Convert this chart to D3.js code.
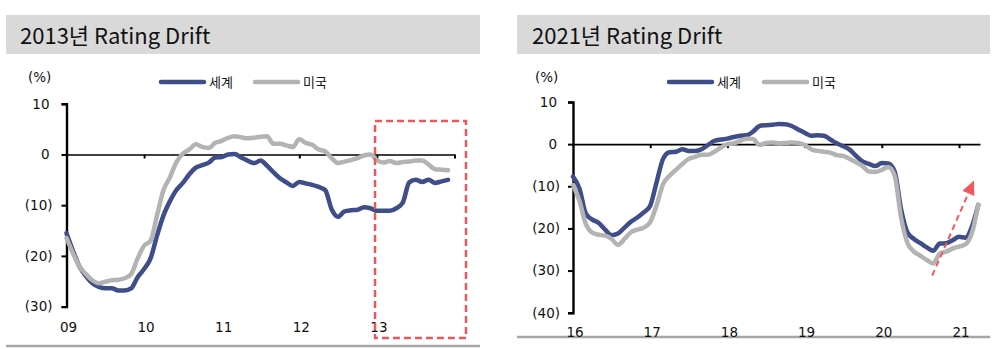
<!DOCTYPE html>
<html>
<head>
<meta charset="utf-8">
<script src="https://cdn.jsdelivr.net/npm/d3@7"></script>
<style>
  html, body { margin: 0; padding: 0; background: #fff; }
  svg { display: block; }
</style>
</head>
<body>
<svg id="chart" width="1000" height="349"></svg>
<script>
// Monthly rating drift (%) — 2009.01 ~ 2013.12
const months2013 = d3.range(60).map(i => 2009 + i / 12);
const world2013 = [
  -15.5, -19.0, -22.1, -24.0, -25.4, -26.1, -26.4, -26.4, -26.8, -26.8, -26.4, -24.2,
  -22.6, -20.5, -16.0, -12.0, -9.2, -7.0, -5.6, -3.9, -2.6, -2.1, -1.6, -0.6,
  -0.5, 0.0, 0.1, -0.6, -1.2, -1.7, -1.2, -2.2, -3.5, -4.7, -5.5, -6.2,
  -5.4, -5.7, -6.0, -6.4, -7.0, -10.8, -12.3, -11.2, -11.0, -10.9, -10.4, -10.6,
  -11.1, -11.1, -11.1, -10.6, -9.5, -5.5, -5.0, -5.4, -5.0, -5.6, -5.3, -5.0
];
const us2013 = [
  -16.5, -19.5, -22.1, -23.6, -24.8, -25.4, -25.1, -24.8, -24.7, -24.4, -23.6, -20.5,
  -18.0, -17.0, -12.0, -7.0, -4.5, -1.5, 0.2, 1.0, 2.0, 1.5, 1.3, 2.3,
  2.7, 3.3, 3.6, 3.4, 3.2, 3.3, 3.5, 3.6, 2.1, 2.1, 1.8, 1.5,
  3.0, 2.3, 1.9, 1.0, 0.6, -0.7, -1.7, -1.4, -1.1, -0.7, -0.2, 0.0,
  -1.1, -1.6, -1.3, -1.7, -1.5, -1.4, -1.2, -1.2, -2.0, -2.9, -3.0, -3.1
];

// Monthly rating drift (%) — 2016.01 ~ 2021.04
const months2021 = d3.range(64).map(i => 2016 + i / 12);
const world2021 = [
  -7.7, -10.5, -16.5, -17.9, -18.7, -20.3, -21.6, -21.2, -19.8, -18.4, -17.4, -16.2,
  -14.6, -9.0, -3.5, -1.9, -1.8, -1.2, -1.6, -1.6, -1.2, -0.2, 0.8, 1.1,
  1.3, 1.7, 2.0, 2.1, 3.0, 4.3, 4.5, 4.6, 4.8, 4.7, 4.3, 3.5,
  2.7, 2.0, 2.1, 2.0, 1.1, 0.2, -0.5, -1.3, -2.8, -4.1, -4.7, -5.2,
  -4.5, -4.6, -6.5, -15.5, -21.0, -22.5, -23.5, -24.5, -25.3, -23.6, -23.5, -22.8,
  -22.0, -22.2, -19.6, -14.4
];
const us2021 = [
  -9.7, -13.5, -19.0, -21.0, -21.5, -21.7, -22.5, -23.9, -22.5, -20.9, -20.3, -19.8,
  -18.5, -14.5, -9.5, -7.5, -6.1, -4.7, -3.5, -3.0, -2.5, -2.5, -1.8, -0.8,
  0.0, 0.2, 0.8, 1.3, 1.2, -0.2, 0.3, 0.4, 0.2, 0.3, 0.4, 0.3,
  -0.2, -1.2, -1.6, -1.8, -2.0, -2.6, -2.8, -3.5, -4.3, -5.2, -6.5, -6.6,
  -6.1, -5.4, -7.5, -17.5, -23.5, -25.5, -26.5, -27.5, -28.3, -26.0, -25.5, -24.8,
  -24.3, -23.8, -21.1, -14.4
];

const seriesNames = ["세계", "미국"];
const yTicks2013 = [10, 0, -10, -20, -30];
const yTicks2021 = [10, 0, -10, -20, -30, -40];
const xLabels2013 = ["09", "10", "11", "12", "13"];
const xLabels2021 = ["16", "17", "18", "19", "20", "21"];

const COLORS = ["#3f4d88", "#b3b3b3"];
const TICK_FONT = "'DejaVu Sans', Verdana, sans-serif";
const KR_FONT = "'Noto Sans CJK KR', 'Noto Sans', sans-serif";

const svg = d3.select("#chart");

function fmt(v) {
  return v < 0 ? "(" + Math.abs(v) + ")" : String(v);
}

function panel(cfg) {
  const g = svg.append("g");

  // header band + title
  g.append("rect")
    .attr("x", cfg.box[0]).attr("y", 15)
    .attr("width", cfg.box[1] - cfg.box[0]).attr("height", 39)
    .attr("fill", "#d9d9d9");
  g.append("text")
    .attr("x", cfg.titleX).attr("y", 44)
    .attr("font-family", KR_FONT).attr("font-size", 22)
    .attr("fill", "#111")
    .text(cfg.title);

  // bottom rule
  g.append("line")
    .attr("x1", cfg.box[0]).attr("x2", cfg.box[1])
    .attr("y1", cfg.bottomY).attr("y2", cfg.bottomY)
    .attr("stroke", "#a6a6a6").attr("stroke-width", 2.5);

  const x = d3.scaleLinear().domain(cfg.xDomain).range(cfg.xRange);
  const y = d3.scaleLinear().domain(cfg.yDomain).range(cfg.yRange);

  // y axis
  const yAxis = d3.axisLeft(y).tickValues(cfg.yTicks).tickSize(5).tickFormat(fmt);
  const ya = g.append("g").attr("transform", `translate(${cfg.xRange[0]},0)`).call(yAxis);
  ya.select(".domain").attr("stroke", "#000").attr("stroke-width", 2.4);
  ya.selectAll(".tick line").attr("stroke", "#000").attr("stroke-width", 2);
  ya.selectAll(".tick text")
    .attr("font-family", TICK_FONT).attr("font-size", 13.5).attr("fill", "#111")
    .attr("x", d => d < 0 ? -cfg.labelGap : -cfg.labelGap - 3);

  // unit label
  g.append("text")
    .attr("x", cfg.unitX).attr("y", 82)
    .attr("font-family", TICK_FONT).attr("font-size", 13.5).attr("fill", "#111")
    .text("(%)");

  // x axis along zero
  const xTickVals = cfg.xLabels.map((_, i) => cfg.xDomain[0] + i);
  const xAxis = d3.axisBottom(x)
    .tickValues(xTickVals.slice(1).concat(cfg.xEndTick ? [cfg.xDomain[1]] : []))
    .tickSize(4).tickSizeOuter(0).tickFormat("");
  const xa = g.append("g").attr("transform", `translate(0,${y(0)})`).call(xAxis);
  xa.select(".domain").attr("stroke", "#000").attr("stroke-width", 1.6);
  xa.selectAll(".tick line").attr("stroke", "#000").attr("stroke-width", 2);

  g.selectAll("text.xl").data(cfg.xLabels).join("text")
    .attr("class", "xl")
    .attr("x", (d, i) => x(xTickVals[i]) + 2)
    .attr("y", cfg.xLabelY)
    .attr("dy", "0.35em")
    .attr("text-anchor", "middle")
    .attr("font-family", TICK_FONT).attr("font-size", 13.5).attr("fill", "#111")
    .text(d => d);

  // series lines (미국 drawn last, on top)
  const line = d3.line().x(d => x(d[0])).y(d => y(d[1])).curve(d3.curveMonotoneX);
  cfg.series.forEach((vals, k) => {
    g.append("path")
      .datum(vals.map((v, i) => [cfg.months[i], v]))
      .attr("fill", "none")
      .attr("stroke", COLORS[k])
      .attr("stroke-width", 4.5)
      .attr("stroke-linejoin", "round")
      .attr("stroke-linecap", "round")
      .attr("d", line);
  });

  // legend
  const lg = g.append("g");
  seriesNames.forEach((name, k) => {
    const lx = cfg.legendX[k];
    lg.append("line")
      .attr("x1", lx).attr("x2", lx + 43)
      .attr("y1", 82).attr("y2", 82)
      .attr("stroke", COLORS[k]).attr("stroke-width", 4.5)
      .attr("stroke-linecap", "round");
    lg.append("text")
      .attr("x", lx + 48).attr("y", 82).attr("dy", "0.36em")
      .attr("font-family", KR_FONT).attr("font-size", 13).attr("fill", "#111")
      .text(name);
  });

  return { g, x, y };
}

const left = panel({
  box: [6, 480], title: "2013년 Rating Drift", titleX: 20, bottomY: 346,
  xDomain: [2009, 2014], xRange: [66.5, 454.5],
  yDomain: [-30, 10], yRange: [306.6, 103.8],
  yTicks: yTicks2013, labelGap: 14, unitX: 28,
  xLabels: xLabels2013, xLabelY: 327, xEndTick: true,
  months: months2013, series: [world2013, us2013],
  legendX: [161, 255]
});

const right = panel({
  box: [517, 990], title: "2021년 Rating Drift", titleX: 532, bottomY: 337,
  xDomain: [2016, 2021.272], xRange: [573, 980],
  yDomain: [-40, 10], yRange: [312.7, 102],
  yTicks: yTicks2021, labelGap: 13, unitX: 535,
  xLabels: xLabels2021, xLabelY: 332, xEndTick: false,
  months: months2021, series: [world2021, us2021],
  legendX: [669, 764]
});

// highlight box around the 2013 period
const hx = left.x, hy = left.y;
left.g.append("rect")
  .attr("x", hx(2012.976)).attr("y", hy(6.6))
  .attr("width", hx(2014.148) - hx(2012.976))
  .attr("height", hy(-36.2) - hy(6.6))
  .attr("fill", "none")
  .attr("stroke", "#e8585c").attr("stroke-width", 2.5)
  .attr("stroke-dasharray", "7,4");

// rebound arrow on the 2021 panel
const rx = right.x, ry = right.y;
const a0 = [rx(2020.653), ry(-31.2)], a1 = [rx(2021.194), ry(-8.65)];
const ang = Math.atan2(a1[1] - a0[1], a1[0] - a0[0]);
const headLen = 14, headW = 6.5;
const base = [a1[0] - headLen * Math.cos(ang), a1[1] - headLen * Math.sin(ang)];
right.g.append("line")
  .attr("x1", a0[0]).attr("y1", a0[1])
  .attr("x2", base[0]).attr("y2", base[1])
  .attr("stroke", "#f05a5e").attr("stroke-width", 2)
  .attr("stroke-dasharray", "6,4");
right.g.append("path")
  .attr("d", d3.line()([
    a1,
    [base[0] + headW * Math.sin(ang), base[1] - headW * Math.cos(ang)],
    [base[0] - headW * Math.sin(ang), base[1] + headW * Math.cos(ang)]
  ]) + "Z")
  .attr("fill", "#f05a5e");
</script>
</body>
</html>
